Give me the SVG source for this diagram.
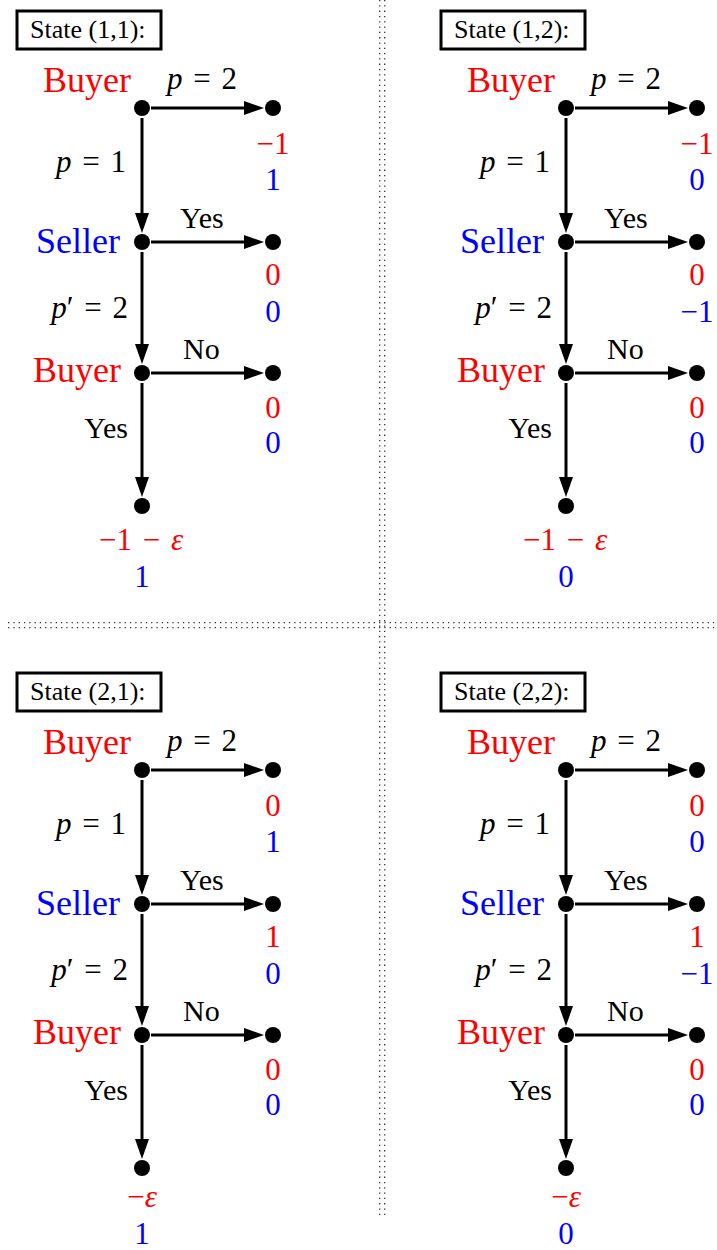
<svg xmlns="http://www.w3.org/2000/svg" width="717" height="1250" viewBox="0 0 717 1250" font-family="'Liberation Serif','Times New Roman',serif">
<style>
text{font-family:"Liberation Serif","Times New Roman",serif;fill:#000}
.nm{font-size:36px}
.lb{font-size:30px}
.mt{font-size:31px}
.eq{word-spacing:3px}
.st{font-size:26px}
.r{fill:#ff0000}
.b{fill:#0000ff}
.e{stroke:#000;stroke-width:3;fill:none;marker-end:url(#ah)}
.box{fill:#fff;stroke:#000;stroke-width:3}
.dot{fill:#000}
.sep{stroke:#333;stroke-width:1.3;stroke-dasharray:1.3 4}
</style>
<defs>
<marker id="ah" markerUnits="userSpaceOnUse" markerWidth="20" markerHeight="14" viewBox="0 0 20 14" refX="10" refY="7" orient="auto">
<path d="M0,0 L20,7 L0,14 z" fill="#000"/>
</marker>
</defs>
<g id="separators">
<line class="sep" x1="8" y1="622.7" x2="717" y2="622.7"/>
<line class="sep" x1="8" y1="627.7" x2="717" y2="627.7"/>
<line class="sep" x1="379.7" y1="0" x2="379.7" y2="1218"/>
<line class="sep" x1="384.7" y1="0" x2="384.7" y2="1218"/>
</g>

<g id="panel11">
<g id="p11-title"><rect class="box" x="17" y="11" width="144" height="38"/><text class="st" x="30" y="38">State (1,1):</text></g>
<g id="p11-connectors">
<line class="e" x1="151" y1="108" x2="254" y2="108"/>
<line class="e" x1="142" y1="118" x2="142" y2="223"/>
<line class="e" x1="151" y1="242" x2="254" y2="242"/>
<line class="e" x1="142" y1="252" x2="142" y2="354"/>
<line class="e" x1="151" y1="373" x2="254" y2="373"/>
<line class="e" x1="142" y1="383" x2="142" y2="487"/>
<text class="mt eq" x="167" y="89"><tspan font-style="italic">p</tspan> = 2</text>
<text class="mt eq" x="126" y="172" text-anchor="end"><tspan font-style="italic">p</tspan> = 1</text>
<text class="lb" x="180" y="228">Yes</text>
<text class="mt eq" x="128" y="318" text-anchor="end"><tspan font-style="italic">p</tspan>′ = 2</text>
<text class="lb" x="183" y="359">No</text>
<text class="lb" x="128" y="438" text-anchor="end">Yes</text>
</g>
<g id="p11-buyer1"><circle class="dot" cx="142" cy="108" r="8"/><text class="nm r" x="131" y="92" text-anchor="end">Buyer</text></g>
<g id="p11-t1"><circle class="dot" cx="273" cy="108" r="8"/><text class="mt r" x="273" y="154" text-anchor="middle">−1</text><text class="mt b" x="273" y="190" text-anchor="middle">1</text></g>
<g id="p11-seller"><circle class="dot" cx="142" cy="242" r="8"/><text class="nm b" x="120" y="253" text-anchor="end">Seller</text></g>
<g id="p11-t2"><circle class="dot" cx="273" cy="242" r="8"/><text class="mt r" x="273" y="285" text-anchor="middle">0</text><text class="mt b" x="273" y="322" text-anchor="middle">0</text></g>
<g id="p11-buyer2"><circle class="dot" cx="142" cy="373" r="8"/><text class="nm r" x="121" y="382" text-anchor="end">Buyer</text></g>
<g id="p11-t3"><circle class="dot" cx="273" cy="373" r="8"/><text class="mt r" x="273" y="418" text-anchor="middle">0</text><text class="mt b" x="273" y="453" text-anchor="middle">0</text></g>
<g id="p11-t4"><circle class="dot" cx="142" cy="506" r="8"/><text class="mt r eq" x="141" y="550" text-anchor="middle">−1 − <tspan font-style="italic">ε</tspan></text><text class="mt b" x="142" y="587" text-anchor="middle">1</text></g>
</g>

<g id="panel12" transform="translate(424,0)">
<g id="p12-title"><rect class="box" x="17" y="11" width="144" height="38"/><text class="st" x="30" y="38">State (1,2):</text></g>
<g id="p12-connectors">
<line class="e" x1="151" y1="108" x2="254" y2="108"/>
<line class="e" x1="142" y1="118" x2="142" y2="223"/>
<line class="e" x1="151" y1="242" x2="254" y2="242"/>
<line class="e" x1="142" y1="252" x2="142" y2="354"/>
<line class="e" x1="151" y1="373" x2="254" y2="373"/>
<line class="e" x1="142" y1="383" x2="142" y2="487"/>
<text class="mt eq" x="167" y="89"><tspan font-style="italic">p</tspan> = 2</text>
<text class="mt eq" x="126" y="172" text-anchor="end"><tspan font-style="italic">p</tspan> = 1</text>
<text class="lb" x="180" y="228">Yes</text>
<text class="mt eq" x="128" y="318" text-anchor="end"><tspan font-style="italic">p</tspan>′ = 2</text>
<text class="lb" x="183" y="359">No</text>
<text class="lb" x="128" y="438" text-anchor="end">Yes</text>
</g>
<g id="p12-buyer1"><circle class="dot" cx="142" cy="108" r="8"/><text class="nm r" x="131" y="92" text-anchor="end">Buyer</text></g>
<g id="p12-t1"><circle class="dot" cx="273" cy="108" r="8"/><text class="mt r" x="273" y="154" text-anchor="middle">−1</text><text class="mt b" x="273" y="190" text-anchor="middle">0</text></g>
<g id="p12-seller"><circle class="dot" cx="142" cy="242" r="8"/><text class="nm b" x="120" y="253" text-anchor="end">Seller</text></g>
<g id="p12-t2"><circle class="dot" cx="273" cy="242" r="8"/><text class="mt r" x="273" y="285" text-anchor="middle">0</text><text class="mt b" x="273" y="322" text-anchor="middle">−1</text></g>
<g id="p12-buyer2"><circle class="dot" cx="142" cy="373" r="8"/><text class="nm r" x="121" y="382" text-anchor="end">Buyer</text></g>
<g id="p12-t3"><circle class="dot" cx="273" cy="373" r="8"/><text class="mt r" x="273" y="418" text-anchor="middle">0</text><text class="mt b" x="273" y="453" text-anchor="middle">0</text></g>
<g id="p12-t4"><circle class="dot" cx="142" cy="506" r="8"/><text class="mt r eq" x="141" y="550" text-anchor="middle">−1 − <tspan font-style="italic">ε</tspan></text><text class="mt b" x="142" y="587" text-anchor="middle">0</text></g>
</g>

<g id="panel21" transform="translate(0,662)">
<g id="p21-title"><rect class="box" x="17" y="11" width="144" height="38"/><text class="st" x="30" y="38">State (2,1):</text></g>
<g id="p21-connectors">
<line class="e" x1="151" y1="108" x2="254" y2="108"/>
<line class="e" x1="142" y1="118" x2="142" y2="223"/>
<line class="e" x1="151" y1="242" x2="254" y2="242"/>
<line class="e" x1="142" y1="252" x2="142" y2="354"/>
<line class="e" x1="151" y1="373" x2="254" y2="373"/>
<line class="e" x1="142" y1="383" x2="142" y2="487"/>
<text class="mt eq" x="167" y="89"><tspan font-style="italic">p</tspan> = 2</text>
<text class="mt eq" x="126" y="172" text-anchor="end"><tspan font-style="italic">p</tspan> = 1</text>
<text class="lb" x="180" y="228">Yes</text>
<text class="mt eq" x="128" y="318" text-anchor="end"><tspan font-style="italic">p</tspan>′ = 2</text>
<text class="lb" x="183" y="359">No</text>
<text class="lb" x="128" y="438" text-anchor="end">Yes</text>
</g>
<g id="p21-buyer1"><circle class="dot" cx="142" cy="108" r="8"/><text class="nm r" x="131" y="92" text-anchor="end">Buyer</text></g>
<g id="p21-t1"><circle class="dot" cx="273" cy="108" r="8"/><text class="mt r" x="273" y="154" text-anchor="middle">0</text><text class="mt b" x="273" y="190" text-anchor="middle">1</text></g>
<g id="p21-seller"><circle class="dot" cx="142" cy="242" r="8"/><text class="nm b" x="120" y="253" text-anchor="end">Seller</text></g>
<g id="p21-t2"><circle class="dot" cx="273" cy="242" r="8"/><text class="mt r" x="273" y="285" text-anchor="middle">1</text><text class="mt b" x="273" y="322" text-anchor="middle">0</text></g>
<g id="p21-buyer2"><circle class="dot" cx="142" cy="373" r="8"/><text class="nm r" x="121" y="382" text-anchor="end">Buyer</text></g>
<g id="p21-t3"><circle class="dot" cx="273" cy="373" r="8"/><text class="mt r" x="273" y="418" text-anchor="middle">0</text><text class="mt b" x="273" y="453" text-anchor="middle">0</text></g>
<g id="p21-t4"><circle class="dot" cx="142" cy="506" r="8"/><text class="mt r" x="142" y="545" text-anchor="middle">−<tspan font-style="italic">ε</tspan></text><text class="mt b" x="142" y="582" text-anchor="middle">1</text></g>
</g>

<g id="panel22" transform="translate(424,662)">
<g id="p22-title"><rect class="box" x="17" y="11" width="144" height="38"/><text class="st" x="30" y="38">State (2,2):</text></g>
<g id="p22-connectors">
<line class="e" x1="151" y1="108" x2="254" y2="108"/>
<line class="e" x1="142" y1="118" x2="142" y2="223"/>
<line class="e" x1="151" y1="242" x2="254" y2="242"/>
<line class="e" x1="142" y1="252" x2="142" y2="354"/>
<line class="e" x1="151" y1="373" x2="254" y2="373"/>
<line class="e" x1="142" y1="383" x2="142" y2="487"/>
<text class="mt eq" x="167" y="89"><tspan font-style="italic">p</tspan> = 2</text>
<text class="mt eq" x="126" y="172" text-anchor="end"><tspan font-style="italic">p</tspan> = 1</text>
<text class="lb" x="180" y="228">Yes</text>
<text class="mt eq" x="128" y="318" text-anchor="end"><tspan font-style="italic">p</tspan>′ = 2</text>
<text class="lb" x="183" y="359">No</text>
<text class="lb" x="128" y="438" text-anchor="end">Yes</text>
</g>
<g id="p22-buyer1"><circle class="dot" cx="142" cy="108" r="8"/><text class="nm r" x="131" y="92" text-anchor="end">Buyer</text></g>
<g id="p22-t1"><circle class="dot" cx="273" cy="108" r="8"/><text class="mt r" x="273" y="154" text-anchor="middle">0</text><text class="mt b" x="273" y="190" text-anchor="middle">0</text></g>
<g id="p22-seller"><circle class="dot" cx="142" cy="242" r="8"/><text class="nm b" x="120" y="253" text-anchor="end">Seller</text></g>
<g id="p22-t2"><circle class="dot" cx="273" cy="242" r="8"/><text class="mt r" x="273" y="285" text-anchor="middle">1</text><text class="mt b" x="273" y="322" text-anchor="middle">−1</text></g>
<g id="p22-buyer2"><circle class="dot" cx="142" cy="373" r="8"/><text class="nm r" x="121" y="382" text-anchor="end">Buyer</text></g>
<g id="p22-t3"><circle class="dot" cx="273" cy="373" r="8"/><text class="mt r" x="273" y="418" text-anchor="middle">0</text><text class="mt b" x="273" y="453" text-anchor="middle">0</text></g>
<g id="p22-t4"><circle class="dot" cx="142" cy="506" r="8"/><text class="mt r" x="142" y="545" text-anchor="middle">−<tspan font-style="italic">ε</tspan></text><text class="mt b" x="142" y="582" text-anchor="middle">0</text></g>
</g>
</svg>
